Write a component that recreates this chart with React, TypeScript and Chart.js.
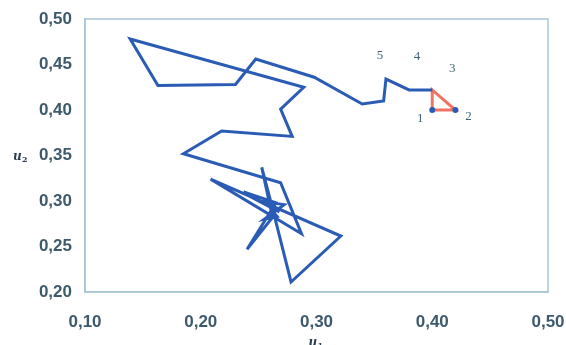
import React, { useEffect, useRef } from "react";
import { Chart, registerables } from "chart.js";

Chart.register(...registerables);

// Red starting triangle (points 1 -> 2 -> 3 -> 1)
const startX = [0.40, 0.42, 0.40, 0.40];
const startY = [0.40, 0.40, 0.422, 0.40];

// Blue trajectory, beginning at point 3
const pathX = [
  0.400, 0.380, 0.360, 0.358, 0.3395, 0.298, 0.2475, 0.230, 0.163, 0.139,
  0.289, 0.269, 0.279, 0.218, 0.185, 0.269, 0.287, 0.2085, 0.321, 0.278,
  0.262, 0.2527, 0.262, 0.240, 0.265, 0.237, 0.268, 0.250, 0.272, 0.255,
  0.266, 0.260,
];
const pathY = [
  0.422, 0.422, 0.434, 0.410, 0.4066, 0.436, 0.456, 0.428, 0.427, 0.478,
  0.425, 0.401, 0.371, 0.377, 0.352, 0.320, 0.264, 0.324, 0.2615, 0.211,
  0.292, 0.337, 0.282, 0.247, 0.298, 0.310, 0.288, 0.300, 0.296, 0.280,
  0.283, 0.292,
];

// Numbered points
const labelText = ["1", "2", "3", "4", "5"];
const labelX = [0.40, 0.42, 0.40, 0.38, 0.36];
const labelY = [0.40, 0.40, 0.422, 0.422, 0.434];

const xTicks = [0.1, 0.2, 0.3, 0.4, 0.5];
const yTicks = [0.2, 0.25, 0.3, 0.35, 0.4, 0.45, 0.5];

const fmt = (v: number) => v.toFixed(2).replace(".", ",");

const labelOffsets = [
  [-12, 9],
  [13, 7],
  [20, -21],
  [8, -33],
  [-6, -23],
];

const extrasPlugin = {
  id: "extras",
  afterDatasetsDraw(chart: any) {
    const { ctx, chartArea, scales } = chart;
    ctx.save();
    // frame
    ctx.strokeStyle = "#a9c6d6";
    ctx.lineWidth = 1.5;
    ctx.strokeRect(chartArea.left, chartArea.top, chartArea.right - chartArea.left, chartArea.bottom - chartArea.top);
    // numbered labels
    ctx.fillStyle = "#3f6478";
    ctx.font = "13px 'Liberation Serif', serif";
    ctx.textAlign = "center";
    ctx.textBaseline = "middle";
    labelText.forEach((t, i) => {
      const px = scales.x.getPixelForValue(labelX[i]) + labelOffsets[i][0];
      const py = scales.y.getPixelForValue(labelY[i]) + labelOffsets[i][1];
      ctx.fillText(t, px, py);
    });
    // axis titles
    ctx.fillStyle = "#2c3e50";
    ctx.font = "italic bold 12px 'DejaVu Serif', serif";
    ctx.textAlign = "left";
    ctx.textBaseline = "alphabetic";
    const yMid = scales.y.getPixelForValue(0.35);
    ctx.fillText("u", 13, yMid + 4);
    ctx.font = "bold 8px 'DejaVu Serif', serif";
    ctx.fillText("2", 22, yMid + 6);
    const xMid = scales.x.getPixelForValue(0.3);
    ctx.font = "italic bold 12px 'DejaVu Serif', serif";
    ctx.fillText("u", xMid - 8, 346);
    ctx.font = "bold 8px 'DejaVu Serif', serif";
    ctx.fillText("1", xMid + 1, 348);
    ctx.restore();
  },
};

const tickFont = { family: "'Liberation Sans', Arial, sans-serif", size: 17, weight: "bold" as const };

export default function App() {
  const ref = useRef<HTMLCanvasElement | null>(null);
  useEffect(() => {
    if (!ref.current) return;
    const chart = new Chart(ref.current, {
      type: "scatter",
      data: {
        datasets: [
          {
            data: pathX.map((x, i) => ({ x, y: pathY[i] })),
            showLine: true,
            borderColor: "#2a5cb5",
            borderWidth: 3,
            pointRadius: 0,
            tension: 0,
          },
          {
            data: startX.map((x, i) => ({ x, y: startY[i] })),
            showLine: true,
            borderColor: "#f2735f",
            borderWidth: 3,
            pointRadius: [3, 3, 0, 0],
            pointBackgroundColor: "#2a5cb5",
            pointBorderWidth: 0,
            tension: 0,
          },
        ],
      },
      options: {
        animation: false,
        responsive: false,
        maintainAspectRatio: false,
        layout: { padding: { top: 19, right: 18, left: 0, bottom: 0 } },
        plugins: { legend: { display: false }, tooltip: { enabled: false } },
        scales: {
          x: {
            type: "linear",
            min: 0.1,
            max: 0.5,
            afterBuildTicks: (s: any) => {
              s.ticks = xTicks.map((v) => ({ value: v }));
            },
            afterFit: (s: any) => {
              s.height = 53;
              s.paddingLeft = 0;
              s.paddingRight = 0;
            },
            grid: { display: false },
            border: { display: true, color: "#a9c6d6", width: 1.5 },
            ticks: {
              padding: 12,
              color: "#3d5a6c",
              font: tickFont,
              callback: (v: any) => fmt(Number(v)),
            },
          },
          y: {
            type: "linear",
            min: 0.2,
            max: 0.5,
            afterBuildTicks: (s: any) => {
              s.ticks = yTicks.map((v) => ({ value: v }));
            },
            afterFit: (s: any) => {
              s.width = 85;
              s.paddingTop = 0;
              s.paddingBottom = 0;
            },
            grid: { display: false },
            border: { display: true, color: "#a9c6d6", width: 1.5 },
            ticks: {
              padding: 5,
              color: "#3d5a6c",
              font: tickFont,
              callback: (v: any) => fmt(Number(v)),
            },
          },
        },
      },
      plugins: [extrasPlugin],
    });
    return () => chart.destroy();
  }, []);
  return (
    <div style={{ position: "fixed", left: 0, top: 0, width: 566, height: 345, background: "#fff" }}>
      <canvas ref={ref} width={566} height={345} style={{ width: 566, height: 345 }} />
    </div>
  );
}
